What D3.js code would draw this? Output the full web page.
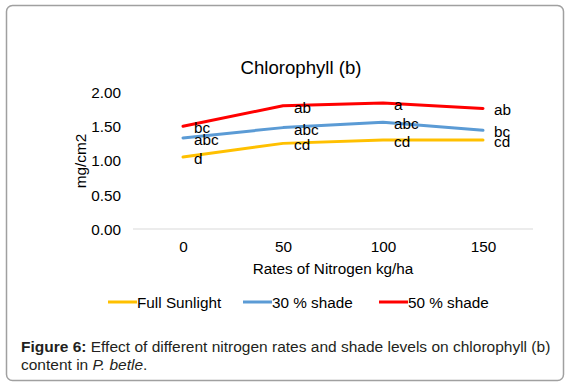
<!DOCTYPE html>
<html>
<head>
<meta charset="utf-8">
<script src="https://cdn.jsdelivr.net/npm/d3@7"></script>
<style>
  body { margin: 0; background: #fff; }
  text { font-family: Arial, "Liberation Sans", sans-serif; }
</style>
</head>
<body>
<svg id="chart" width="567" height="385"></svg>
<script>
const rates = ['0', '50', '100', '150']
const seriesNames = ['Full Sunlight', '30 % shade', '50 % shade']
const fullSunlight = [1.05, 1.25, 1.30, 1.30]
const shade30 = [1.33, 1.48, 1.56, 1.44]
const shade50 = [1.50, 1.80, 1.84, 1.76]
const lettersFull = ['d', 'cd', 'cd', 'cd']
const letters30 = ['abc', 'abc', 'abc', 'bc']
const letters50 = ['bc', 'ab', 'a', 'ab']
const yTicks = [0, 0.5, 1, 1.5, 2]
const colors = ['#FFC000', '#5B9BD5', '#FF0000']

const series = [
  { name: seriesNames[0], values: fullSunlight, letters: lettersFull, color: colors[0] },
  { name: seriesNames[1], values: shade30, letters: letters30, color: colors[1] },
  { name: seriesNames[2], values: shade50, letters: letters50, color: colors[2] }
]

const svg = d3.select('svg#chart')

// frame
svg.append('rect')
  .attr('x', 6.5).attr('y', 5.5)
  .attr('width', 557).attr('height', 375)
  .attr('rx', 6)
  .attr('fill', '#fff')
  .attr('stroke', '#a0a0a0')
  .attr('stroke-width', 1.5)

const x = d3.scalePoint().domain(rates).range([133, 533]).padding(0.5)
const y = d3.scaleLinear().domain([0, 2]).range([229, 92])

// title
svg.append('text')
  .attr('x', 301).attr('y', 67)
  .attr('text-anchor', 'middle')
  .attr('dominant-baseline', 'central')
  .attr('font-size', 18.6)
  .text('Chlorophyll (b)')

// baseline grid
svg.append('line')
  .attr('x1', 133).attr('x2', 533)
  .attr('y1', y(0)).attr('y2', y(0))
  .attr('stroke', '#d9d9d9')
  .attr('stroke-width', 1)

// y axis labels
const yAxis = svg.append('g')
  .attr('transform', 'translate(121,0)')
  .call(d3.axisLeft(y).tickValues(yTicks).tickFormat(d3.format('.2f')).tickSize(0).tickPadding(0))
yAxis.select('.domain').remove()
yAxis.selectAll('text')
  .attr('font-size', 15.3)
  .attr('font-family', 'Arial, "Liberation Sans", sans-serif')
  .attr('fill', '#000')
  .attr('dy', '0.35em')

// x axis labels
const xAxis = svg.append('g')
  .attr('transform', 'translate(0,240)')
  .call(d3.axisBottom(x).tickSize(0).tickPadding(0))
xAxis.select('.domain').remove()
xAxis.selectAll('text')
  .attr('font-size', 15.3)
  .attr('font-family', 'Arial, "Liberation Sans", sans-serif')
  .attr('fill', '#000')
  .attr('dy', '0.35em')
  .attr('y', 7)

// axis titles
svg.append('text')
  .attr('x', 333).attr('y', 268)
  .attr('text-anchor', 'middle')
  .attr('dominant-baseline', 'central')
  .attr('font-size', 15.3)
  .text('Rates of Nitrogen kg/ha')

svg.append('text')
  .attr('transform', 'translate(80,161) rotate(-90)')
  .attr('text-anchor', 'middle')
  .attr('dominant-baseline', 'central')
  .attr('font-size', 15.3)
  .text('mg/cm2')

// lines
const line = d3.line()
  .x((d, i) => x(rates[i]))
  .y(d => y(d))

svg.selectAll('path.series')
  .data(series)
  .enter()
    .append('path')
      .attr('class', 'series')
      .attr('d', d => line(d.values))
      .attr('fill', 'none')
      .attr('stroke', d => d.color)
      .attr('stroke-width', 3)
      .attr('stroke-linejoin', 'round')
      .attr('stroke-linecap', 'round')

// letter labels
series.forEach(s => {
  svg.append('g')
    .selectAll('text')
    .data(s.values)
    .enter()
      .append('text')
        .attr('x', (d, i) => x(rates[i]) + 11)
        .attr('y', d => y(d) + 1.5)
        .attr('dominant-baseline', 'central')
        .attr('font-size', 15.3)
        .text((d, i) => s.letters[i])
})

// legend
const legendX = [108, 243, 379]
const legend = svg.append('g').attr('class', 'legend')
  .selectAll('g')
  .data(series)
  .enter()
    .append('g')
      .attr('transform', (d, i) => `translate(${legendX[i]},302)`)

legend.append('line')
  .attr('x1', 0).attr('x2', 29)
  .attr('stroke', d => d.color)
  .attr('stroke-width', 3)

legend.append('text')
  .attr('x', 29)
  .attr('dominant-baseline', 'central')
  .attr('font-size', 15.3)
  .text(d => d.name)

// caption
const cap1 = svg.append('text')
  .attr('x', 21).attr('y', 346)
  .attr('dominant-baseline', 'central')
  .attr('font-size', 15.5)
  .attr('fill', '#231f20')
cap1.append('tspan').attr('font-weight', 'bold').text('Figure 6:')
cap1.append('tspan').text(' Effect of different nitrogen rates and shade levels on chlorophyll (b)')

const cap2 = svg.append('text')
  .attr('x', 21).attr('y', 364)
  .attr('dominant-baseline', 'central')
  .attr('font-size', 15.5)
  .attr('fill', '#231f20')
cap2.append('tspan').text('content in ')
cap2.append('tspan').attr('font-style', 'italic').text('P. betle')
cap2.append('tspan').text('.')
</script>
</body>
</html>
